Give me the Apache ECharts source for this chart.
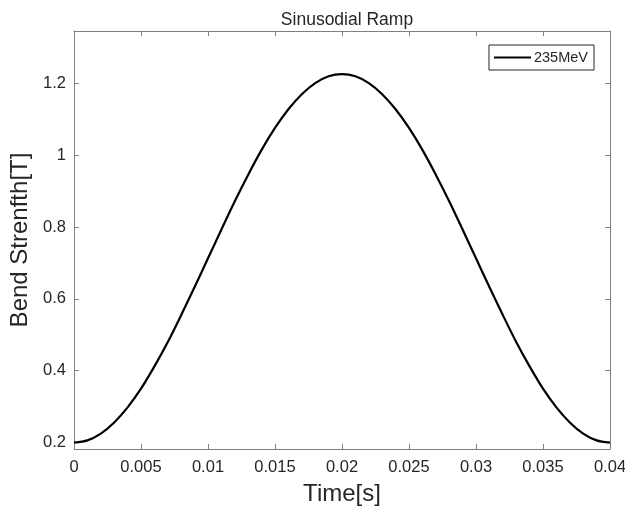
<!DOCTYPE html>
<html>
<head>
<meta charset="utf-8">
<script src="https://cdn.jsdelivr.net/npm/echarts@6/dist/echarts.min.js"></script>
<style>html,body{margin:0;padding:0;background:#fff}#c{width:625px;height:511px}</style>
</head>
<body>
<div id="c"></div>
<script>
var times = [0,0.001,0.002,0.003,0.004,0.005,0.006,0.007,0.008,0.009,0.010,0.011,0.012,0.013,0.014,0.015,0.016,0.017,0.018,0.019,0.020,0.021,0.022,0.023,0.024,0.025,0.026,0.027,0.028,0.029,0.030,0.031,0.032,0.033,0.034,0.035,0.036,0.037,0.038,0.039,0.040];
var bend235 = [0.200,0.206,0.225,0.256,0.298,0.350,0.412,0.480,0.555,0.633,0.713,0.793,0.872,0.946,1.015,1.076,1.128,1.170,1.201,1.220,1.226,1.220,1.201,1.170,1.128,1.076,1.015,0.946,0.872,0.793,0.713,0.633,0.555,0.480,0.412,0.350,0.298,0.256,0.225,0.206,0.200];
var yTicks = [0.2,0.4,0.6,0.8,1.0,1.2];
var seriesName = '235MeV';
var titleText = 'Sinusodial Ramp';
var xName = 'Time[s]';
var yName = 'Bend Strenfth[T]';

var axisColor = '#808080';
var textColor = '#262626';
var font = 'Liberation Sans, Arial, sans-serif';
var yMin = 0.182, yMax = 1.346;

var chart = echarts.init(document.getElementById('c'), null, {renderer:'canvas'});
var pts = times.map(function(t,i){return [t, bend235[i]];});
chart.setOption({
  animation:false,
  backgroundColor:'#fff',
  title:{text:titleText, left:342, top:6, textAlign:'center',
    textStyle:{fontFamily:font, fontSize:17.5, fontWeight:'normal', color:textColor}},
  legend:{data:[seriesName], right:31, top:45, orient:'vertical',
    borderColor:textColor, borderWidth:1, padding:[5,6,5,5],
    itemWidth:37, itemHeight:14, icon:'path://M0,6 L37,6 L37,8 L0,8 Z',
    textStyle:{fontFamily:font, fontSize:14.5, color:textColor, padding:[0,0,0,-2]}},
  grid:{left:74, right:15, top:31, bottom:62, containLabel:false, outerBoundsMode:'none'},
  xAxis:[{
    type:'value', min:0, max:0.04, interval:0.005, position:'bottom',
    name:xName, nameLocation:'middle', nameGap:33,
    nameTextStyle:{fontFamily:font, fontSize:24, color:textColor},
    axisLine:{show:true, onZero:false, lineStyle:{color:axisColor, width:1}},
    axisTick:{show:true, inside:true, length:5, lineStyle:{color:axisColor}},
    axisLabel:{fontFamily:font, fontSize:16.5, color:textColor, margin:10,
      formatter:function(v){return String(+v.toFixed(3));}},
    splitLine:{show:false}
  },{
    type:'value', min:0, max:0.04, interval:0.005, position:'top',
    axisLine:{show:true, onZero:false, lineStyle:{color:axisColor, width:1}},
    axisTick:{show:true, inside:true, length:5, lineStyle:{color:axisColor}},
    axisLabel:{show:false}, splitLine:{show:false}
  }],
  yAxis:[{
    type:'value', min:yMin, max:yMax, position:'left',
    name:yName, nameLocation:'middle', nameGap:40, nameRotate:90,
    nameTextStyle:{fontFamily:font, fontSize:24, color:textColor},
    axisLine:{show:true, onZero:false, lineStyle:{color:axisColor, width:1}},
    axisTick:{show:true, inside:true, length:5, customValues:yTicks, lineStyle:{color:axisColor}},
    axisLabel:{fontFamily:font, fontSize:16.5, color:textColor, margin:8, customValues:yTicks,
      formatter:function(v){return String(+(+v).toFixed(1));}},
    splitLine:{show:false}
  },{
    type:'value', min:yMin, max:yMax, position:'right',
    axisLine:{show:true, onZero:false, lineStyle:{color:axisColor, width:1}},
    axisTick:{show:true, inside:true, length:5, customValues:yTicks, lineStyle:{color:axisColor}},
    axisLabel:{show:false}, splitLine:{show:false}
  }],
  series:[{
    name:seriesName, type:'line', data:pts, smooth:0.3, showSymbol:false, symbol:'none',
    xAxisIndex:0, yAxisIndex:0,
    lineStyle:{color:'#000', width:2.2}, itemStyle:{color:'#000'}
  }]
});
</script>
</body>
</html>
